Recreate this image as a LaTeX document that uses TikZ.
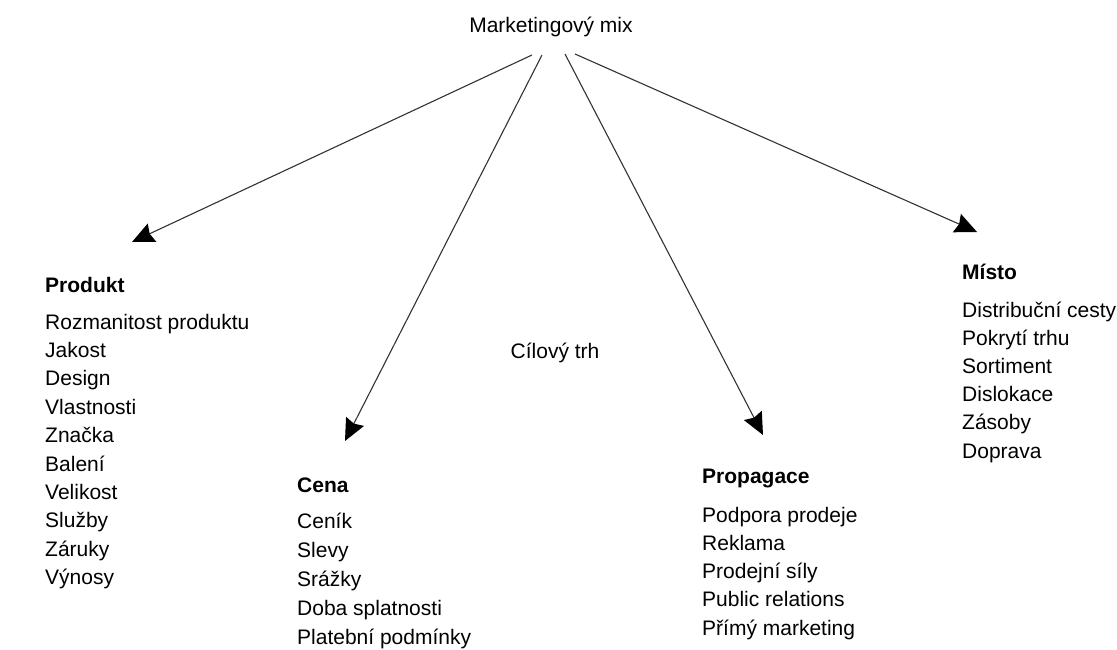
\documentclass[tikz,border=0pt]{standalone}
\usepackage{fontspec}
\setmainfont{Liberation Sans}
\usetikzlibrary{arrows.meta}
\begin{document}
\begin{tikzpicture}[x=1pt,y=-1pt,
  txt/.style={font=\fontsize{21}{28}\selectfont, inner sep=0pt, anchor=base west},
  head/.style={txt, font=\fontsize{21}{28}\selectfont\bfseries},
  arr/.style={draw=black!80, line width=1.1pt, -{Stealth[length=22pt,width=20pt,inset=2.5pt,fill=black,color=black]}}]
\useasboundingbox[fill=white] (0,0) rectangle (1117,650);

\node[txt, anchor=base] (mix) at (551,33) {Marketingový mix};
\node[txt, anchor=base] (cil) at (555,358) {Cílový trh};

% Produkt
\node[head] (hprod) at (45,292) {Produkt};
\foreach \t [count=\i] in {Rozmanitost produktu, Jakost, Design, Vlastnosti, Značka, Balení, Velikost, Služby, Záruky, Výnosy}
  \node[txt] (prod\i) at (45,{329+28.4*(\i-1)}) {\t};

% Cena
\node[head] (hcena) at (297,492) {Cena};
\foreach \t [count=\i] in {Ceník, Slevy, Srážky, Doba splatnosti, Platební podmínky}
  \node[txt] (cena\i) at (297,{528+29.2*(\i-1)}) {\t};

% Propagace
\node[head] (hprop) at (702,483) {Propagace};
\foreach \t [count=\i] in {Podpora prodeje, Reklama, Prodejní síly, Public relations, Přímý marketing}
  \node[txt] (prop\i) at (702,{522+28.3*(\i-1)}) {\t};

% Misto
\node[head] (hmis) at (962,279) {Místo};
\foreach \t [count=\i] in {Distribuční cesty, Pokrytí trhu, Sortiment, Dislokace, Zásoby, Doprava}
  \node[txt] (mis\i) at (962,{317+28.2*(\i-1)}) {\t};

% arrows
\coordinate (s1) at (532,55);
\coordinate (s2) at (542,55);
\coordinate (s3) at (565,54);
\coordinate (s4) at (575,54);
\coordinate (t1) at (132,242);
\coordinate (t2) at (345,441);
\coordinate (t3) at (763,435);
\coordinate (t4) at (977,232);
\draw[arr] (s1) -- (t1);
\draw[arr] (s2) -- (t2);
\draw[arr] (s3) -- (t3);
\draw[arr] (s4) -- (t4);
\end{tikzpicture}
\end{document}
